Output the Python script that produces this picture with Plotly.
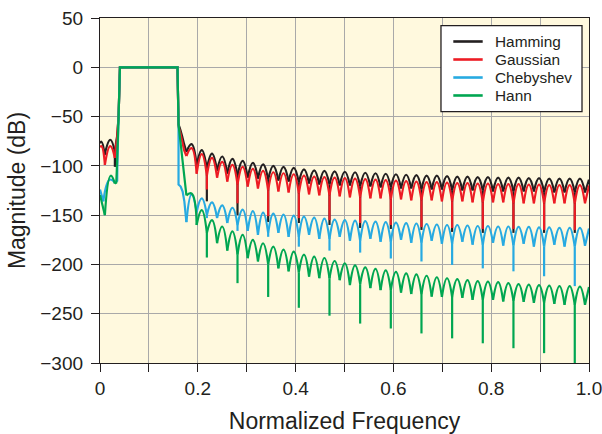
import plotly.graph_objects as go

# ---------------- shared frequency grid ----------------
null_f = [0.1767, 0.1976, 0.2185, 0.2394, 0.2603, 0.2812, 0.3021, 0.3230, 0.3439, 0.3648,
          0.3857, 0.4066, 0.4275, 0.4484, 0.4693, 0.4902, 0.5111, 0.5320, 0.5529, 0.5738,
          0.5947, 0.6156, 0.6365, 0.6574, 0.6783, 0.6992, 0.7201, 0.7410, 0.7619, 0.7828,
          0.8037, 0.8246, 0.8455, 0.8664, 0.8873, 0.9082, 0.9291, 0.9500, 0.9709, 0.9918]
peak_f = [0.1872, 0.2081, 0.2290, 0.2499, 0.2708, 0.2917, 0.3126, 0.3335, 0.3544, 0.3753,
          0.3962, 0.4171, 0.4380, 0.4589, 0.4798, 0.5007, 0.5216, 0.5425, 0.5634, 0.5843,
          0.6052, 0.6261, 0.6470, 0.6679, 0.6888, 0.7097, 0.7306, 0.7515, 0.7724, 0.7933,
          0.8142, 0.8351, 0.8560, 0.8769, 0.8978, 0.9187, 0.9396, 0.9605, 0.9814, 1.0]
deep_f = [0.2185, 0.2812, 0.3439, 0.4066, 0.4693, 0.5320, 0.5947, 0.6574, 0.7201, 0.7828,
          0.8455, 0.9082, 0.9709]

# ---------------- Hamming ----------------
ham_left_f = [0.0, 0.003, 0.0095, 0.021, 0.0304]
ham_left_db = [-77, -75.5, -89, -73.5, -86]
ham_edge_f = [0.0304, 0.0304, 0.0325, 0.0350, 0.0380, 0.0408, 0.1585, 0.1606, 0.1640, 0.1680, 0.1720, 0.1767]
ham_edge_db = [-86, -101, -78, -70, -50, 0, 0, -58, -63, -70, -78, -86]
ham_peak = [-78, -84, -87.5, -90.5, -93, -95, -97, -98.5, -100, -101,
            -102, -103.5, -104.5, -105, -105.5, -106, -106.5, -107, -107.5, -108,
            -108.5, -109, -109.5, -110, -110, -110.5, -111, -111, -111.5, -111.5,
            -112, -112, -112, -112.5, -112.5, -113, -113, -113, -113, -114]
ham_null = [-86, -100, -103, -105, -108, -110, -112, -113, -114, -115,
            -116, -117, -118, -119, -119, -120, -120, -121, -121, -122,
            -122, -123, -123, -124, -124, -124, -125, -125, -125, -125,
            -126, -126, -126, -126, -126, -127, -127, -127, -127, -127]
ham_deep = [-136, -150, -157, -158, -160, -163, -164, -165, -167, -168, -168, -168, -168]

# ---------------- Gaussian ----------------
gau_left_f = [0.0, 0.003, 0.0100, 0.021, 0.0304]
gau_left_db = [-81, -80, -99, -80, -92]
gau_edge_f = [0.0304, 0.0325, 0.0350, 0.0380, 0.0408, 0.1585, 0.1606, 0.1640, 0.1680, 0.1720, 0.1767]
gau_edge_db = [-92, -80, -72, -50, 0, 0, -60, -66, -75, -84, -90]
gau_peak = [-82, -88, -92, -96, -99, -101, -103, -105, -106.5, -107.5,
            -108.5, -110, -111, -111.5, -112, -112.5, -113, -113.5, -114, -114.5,
            -115, -115.5, -116, -116.5, -116.5, -117, -117.5, -117.5, -118, -118,
            -118.5, -118.5, -118.5, -119, -119, -119.5, -119.5, -119.5, -119.5, -120]
gau_null = [-90, -108, -110, -112, -116, -119, -121, -123, -125, -126,
            -127, -128, -129, -130, -130, -131, -132, -132, -133, -133,
            -134, -134, -135, -135, -135, -136, -136, -136, -137, -137,
            -137, -137, -138, -138, -138, -138, -138, -138, -138, -138]
gau_deep = [-124, -138, -151, -153, -155, -158, -160, -162, -163, -164, -164, -165, -165]

# ---------------- Chebyshev ----------------
che_left_f = [0.0, 0.0068, 0.0200, 0.0304]
che_left_db = [-124, -136, -114, -117]
che_edge_f = [0.0304, 0.0352, 0.0355, 0.0380, 0.0408, 0.1585, 0.1606, 0.1606, 0.1650, 0.1690, 0.1725, 0.1767]
che_edge_db = [-117, -115, -99, -50, 0, 0, -58, -119, -121, -126, -136, -157]
che_peak = [-129, -133, -137, -140, -142.5, -144.5, -146, -147.5, -148.5, -149.5,
            -150.5, -151.5, -152.5, -153.5, -154.5, -155, -155.5, -156, -156.5, -157,
            -157.5, -158, -158.5, -159, -159.5, -160, -160, -160.5, -161, -161,
            -161.5, -161.5, -162, -162, -162.5, -162.5, -163, -163, -163, -163.5]
che_null = [-157, -147, -150, -153, -158, -160, -166, -170, -168, -168,
            -172, -172, -170, -174, -174, -172, -176, -176, -174, -177,
            -177, -175, -178, -178, -176, -179, -179, -177, -180, -180,
            -178, -181, -181, -179, -182, -182, -180, -182, -182, -181]
che_deep = [-153, -166, -172, -182, -186, -188, -194, -197, -200.5, -204, -207, -212, -222]

# ---------------- Hann ----------------
han_left_f = [0.0, 0.0100, 0.0220, 0.0304]
han_left_db = [-129.5, -150, -110, -118]
han_edge_f = [0.0304, 0.0333, 0.0347, 0.0380, 0.0408, 0.1585, 0.1606, 0.1767]
han_edge_db = [-118, -117, -100, -50, 0, 0, -58, -130]
han_peak = [-128, -145, -155, -161.5, -166.5, -170, -175, -178.5, -182, -185,
            -187, -190, -192, -193.5, -196.5, -199, -201, -203, -204.5, -206,
            -207.5, -209, -210, -211.5, -213, -214, -215, -216, -217, -217.5,
            -218, -219, -220, -220.5, -221, -221.5, -222, -222, -222.5, -223]
han_null = [-130, -160, -168, -178.5, -186, -190, -193.7, -197, -200, -204,
            -207, -208, -212.4, -214, -214, -216, -221, -220, -224, -226,
            -226, -228.6, -230, -230, -232.6, -233, -233, -234, -236, -236,
            -236, -237.6, -237, -238, -239, -239, -240, -241, -241, -241]
han_deep = [-193, -219, -233, -244, -252, -260, -265, -270, -275, -280, -285, -290, -300]

names = ["Hamming", "Gaussian", "Chebyshev", "Hann"]
colors = ["#231F20", "#ED1C24", "#27AAE1", "#00A651"]


def arch_path(xs, ys):
    """Split a null/peak sequence into separate arches at every local minimum."""
    X, Y = [], []
    sx, sy = [xs[0]], [ys[0]]
    for i in range(1, len(xs)):
        sx.append(xs[i]); sy.append(ys[i])
        if 0 < i < len(xs) - 1 and ys[i] < ys[i - 1] and ys[i] < ys[i + 1]:
            X += sx + [None]; Y += sy + [None]
            sx, sy = [xs[i]], [ys[i]]
    X += sx; Y += sy
    return X, Y


def stopband(peaks, nulls, deeps):
    xs, ys = [], []
    for nf, nv, pf, pv in zip(null_f, nulls, peak_f, peaks):
        xs += [nf, pf]; ys += [nv, pv]
    X, Y = arch_path(xs, ys)
    for df, dv in zip(deep_f, deeps):
        base = nulls[null_f.index(df)]
        X += [None, df, df]; Y += [None, base, dv]
    return X, Y


series = [
    (ham_left_f, ham_left_db, ham_edge_f, ham_edge_db, ham_peak, ham_null, ham_deep),
    (gau_left_f, gau_left_db, gau_edge_f, gau_edge_db, gau_peak, gau_null, gau_deep),
    (che_left_f, che_left_db, che_edge_f, che_edge_db, che_peak, che_null, che_deep),
    (han_left_f, han_left_db, han_edge_f, han_edge_db, han_peak, han_null, han_deep),
]

fig = go.Figure()
LW = 2.2
for name, col, (lf, ld, ef, ed, pk, nl, dp) in zip(names, colors, series):
    lx, ly = arch_path(lf, ld)
    sx, sy = stopband(pk, nl, dp)
    fig.add_trace(go.Scatter(x=lx + [None] + sx, y=ly + [None] + sy, mode="lines",
                             line=dict(color=col, width=LW, shape="spline", smoothing=1.3,
                                       simplify=False),
                             name=name, legendgroup=name, showlegend=False, hoverinfo="skip"))
    fig.add_trace(go.Scatter(x=ef, y=ed, mode="lines", name=name,
                             line=dict(color=col, width=LW, simplify=False),
                             legendgroup=name, showlegend=False))

FONT = "Liberation Sans, Arial, Helvetica, sans-serif"
x_ticks = [0, 0.1, 0.2, 0.3, 0.4, 0.5, 0.6, 0.7, 0.8, 0.9, 1.0]
x_text = ["0", "", "0.2", "", "0.4", "", "0.6", "", "0.8", "", "1.0"]

# ---- legend box drawn in paper coordinates (upper right of the plot) ----
LEG_X0, LEG_X1, LEG_Y0, LEG_Y1 = 0.6973, 0.9857, 0.7284, 0.9777
LEG_LINE_X0, LEG_LINE_X1, LEG_TEXT_X = 0.7225, 0.7826, 0.8037
LEG_ROW_Y = [0.9319, 0.8797, 0.8275, 0.7754]

shapes = [dict(type="rect", xref="paper", yref="paper", x0=LEG_X0, x1=LEG_X1, y0=LEG_Y0, y1=LEG_Y1,
               fillcolor="white", line=dict(color="#231F20", width=1.3), layer="above")]
annotations = []
for name, col, ry in zip(names, colors, LEG_ROW_Y):
    shapes.append(dict(type="line", xref="paper", yref="paper", x0=LEG_LINE_X0, x1=LEG_LINE_X1,
                       y0=ry, y1=ry, line=dict(color=col, width=2.6), layer="above"))
    annotations.append(dict(xref="paper", yref="paper", x=LEG_TEXT_X, y=ry, text=name,
                            showarrow=False, xanchor="left", yanchor="middle",
                            font=dict(family=FONT, size=15.4, color="#231F20")))

fig.update_layout(
    width=602, height=434,
    margin=dict(l=100, r=13, t=18, b=71, autoexpand=False),
    paper_bgcolor="white", plot_bgcolor="#FFF9DE",
    font=dict(family=FONT, size=19, color="#231F20"),
    showlegend=False,
    shapes=shapes, annotations=annotations,
)
fig.update_xaxes(range=[0, 1], tickvals=x_ticks, ticktext=x_text,
                 showgrid=True, gridcolor="#A9A9A9", gridwidth=1,
                 showline=True, linecolor="#231F20", linewidth=1.3, mirror=True,
                 ticks="outside", ticklen=8, tickcolor="#231F20", tickwidth=1.3,
                 ticklabelstandoff=0, ticklabeloverflow="allow", zeroline=False,
                 title=dict(text="Normalized Frequency", standoff=33))
fig.update_yaxes(range=[-300, 50], dtick=50, tick0=0,
                 showgrid=True, gridcolor="#A9A9A9", gridwidth=1,
                 showline=True, linecolor="#231F20", linewidth=1.3, mirror=True,
                 ticks="outside", ticklen=8, tickcolor="#231F20", tickwidth=1.3,
                 ticklabelstandoff=4, zeroline=False,
                 title=dict(text="Magnitude (dB)", standoff=8))

fig.write_html("out.html", config={"displayModeBar": False},
               post_script="document.body.style.margin='0px';")
